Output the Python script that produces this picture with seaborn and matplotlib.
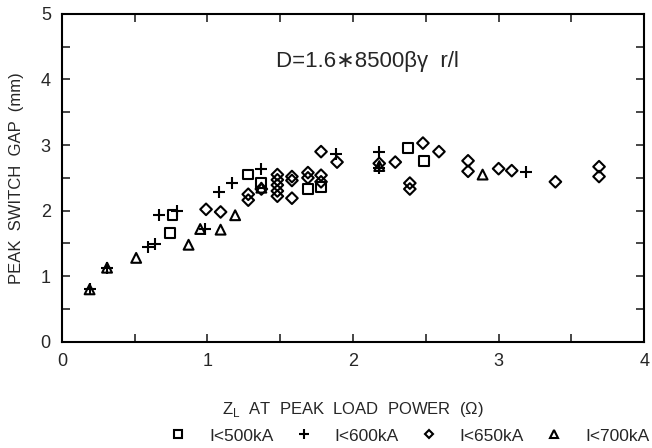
import matplotlib
matplotlib.use("Agg")
import matplotlib.pyplot as plt
from matplotlib.lines import Line2D
import seaborn as sns
import pandas as pd

# ---- data ----
sq_x = [0.76, 0.74, 1.28, 1.37, 1.69, 1.78, 2.38, 2.49]
sq_y = [1.93, 1.66, 2.55, 2.42, 2.33, 2.36, 2.96, 2.76]

pl_x = [0.19, 0.31, 0.59, 0.64, 0.67, 0.79, 0.98, 1.08, 1.17, 1.37, 1.88, 2.18, 2.18, 3.19]
pl_y = [0.80, 1.13, 1.45, 1.49, 1.94, 2.00, 1.72, 2.28, 2.42, 2.64, 2.87, 2.90, 2.65, 2.59]

di_x = [0.99, 1.09, 1.28, 1.28, 1.37, 1.48, 1.48, 1.48, 1.48, 1.48, 1.58, 1.58, 1.58,
        1.69, 1.69, 1.78, 1.78, 1.78, 1.89, 2.18, 2.29, 2.39, 2.39, 2.48, 2.59,
        2.79, 2.79, 3.00, 3.09, 3.39, 3.69, 3.69]
di_y = [2.02, 1.98, 2.25, 2.16, 2.33, 2.55, 2.47, 2.39, 2.30, 2.22, 2.52, 2.46, 2.19,
        2.58, 2.50, 2.54, 2.44, 2.90, 2.74, 2.72, 2.74, 2.42, 2.33, 3.03, 2.90,
        2.76, 2.60, 2.64, 2.61, 2.44, 2.67, 2.52]

tr_x = [0.19, 0.31, 0.51, 0.87, 0.95, 1.09, 1.19, 1.37, 2.18, 2.89]
tr_y = [0.80, 1.13, 1.28, 1.48, 1.72, 1.71, 1.93, 2.35, 2.68, 2.55]

series_labels = ["I<500kA", "I<600kA", "I<650kA", "I<700kA"]
x_ticks = [0, 1, 2, 3, 4]
y_ticks = [0, 1, 2, 3, 4, 5]

sns.set_style("ticks")
plt.rcParams["font.family"] = ["Liberation Sans", "DejaVu Sans"]

fig = plt.figure(figsize=(6.52, 4.48), dpi=100)
ax = fig.add_axes([0.095, 0.237, 0.893, 0.732])

groups = [
    (sq_x, sq_y, "s", 50),
    (pl_x, pl_y, "+", 80),
    (di_x, di_y, "D", 35),
    (tr_x, tr_y, "^", 50),
]
for (gx, gy, m, s), lab in zip(groups, series_labels):
    df = pd.DataFrame({"x": gx, "y": gy})
    sns.scatterplot(data=df, x="x", y="y", marker=m, s=s, color="black",
                    linewidth=1.5, ax=ax, legend=False, zorder=3)
    coll = ax.collections[-1]
    if m != "+":
        coll.set_facecolor("none")
    coll.set_edgecolor("black")
    coll.set_linewidth(1.5)

ax.set_xlim(0, 4)
ax.set_ylim(0, 5)
ax.set_xticks(x_ticks)
ax.set_xticks([0.5, 1.5, 2.5, 3.5], minor=True)
ax.set_yticks(y_ticks)
ax.set_yticks([0.5, 1.5, 2.5, 3.5, 4.5], minor=True)
ax.tick_params(which="both", direction="in", top=True, right=True, length=6, width=1.2)
ax.tick_params(axis="both", which="major", labelsize=13, pad=8)
for sp in ax.spines.values():
    sp.set_linewidth(1.5)
    sp.set_color("black")

ax.set_xlabel(r"Z$_\mathregular{L}$  AT  PEAK  LOAD  POWER  (Ω)", fontsize=12, labelpad=22)
ax.set_ylabel("PEAK  SWITCH  GAP  (mm)", fontsize=12, labelpad=12)

ax.text(2.1, 4.27, "D=1.6∗8500βγ  r/l", fontsize=16, ha="center", va="center")

handles = [
    Line2D([], [], marker="s", ls="none", mfc="none", mec="black", ms=6, mew=1.5),
    Line2D([], [], marker="+", ls="none", color="black", ms=7, mew=1.5),
    Line2D([], [], marker="D", ls="none", mfc="none", mec="black", ms=4.5, mew=1.5),
    Line2D([], [], marker="^", ls="none", mfc="none", mec="black", ms=6, mew=1.5),
]
fig.legend(handles, series_labels, loc="lower center", bbox_to_anchor=(0.628, -0.025),
           ncol=4, frameon=False, fontsize=12.5, handletextpad=1.3, columnspacing=1.2,
           handlelength=1.0)

fig.savefig("out.png", dpi=100)
